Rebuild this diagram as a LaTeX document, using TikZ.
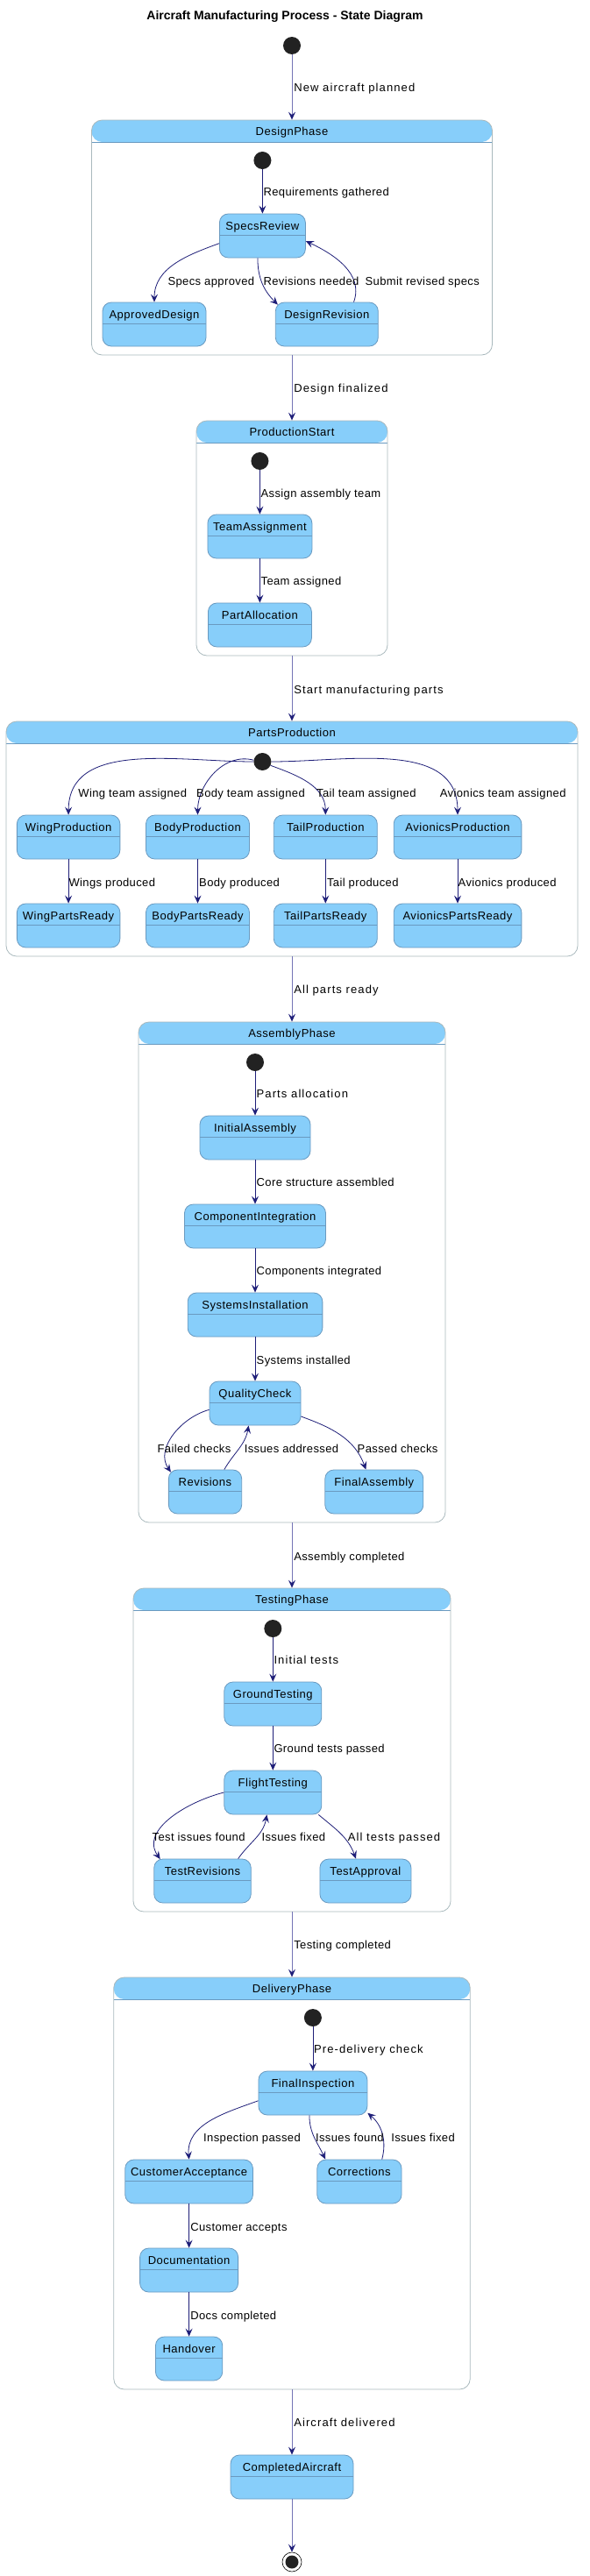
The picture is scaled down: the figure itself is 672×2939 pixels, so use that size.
\documentclass[tikz,border=0pt]{standalone}
\usepackage{fontspec}
\setmainfont{Liberation Sans}
\newfontfamily\namefont[LetterSpace=4]{Liberation Sans}
\newfontfamily\lblfont[LetterSpace=3]{Liberation Sans}
\newfontfamily\lblspfont[LetterSpace=8.5]{Liberation Sans}
\usetikzlibrary{arrows.meta}
\definecolor{statefill}{HTML}{87CEFA}
\definecolor{stateline}{HTML}{6A9AC0}
\definecolor{phaseline}{HTML}{A9B9BD}
\definecolor{arrowcol}{HTML}{1E1E78}
\definecolor{arrowlight}{HTML}{7575B5}
\definecolor{dotfill}{HTML}{222222}
\tikzset{
    statebox/.style={draw=stateline, fill=statefill, line width=0.8pt, rounded corners=10pt,
        font=\namefont\fontsize{13}{15}\selectfont, inner sep=0pt, minimum width=#1,
        text height=18pt, text depth=32pt,
        path picture={\draw[stateline, line width=1pt]
            ([yshift=-24pt]path picture bounding box.north west) --
            ([yshift=-24pt]path picture bounding box.north east);}},
    phasebox/.style 2 args={draw=phaseline, fill=white, line width=0.8pt, rounded corners=12pt,
        inner sep=0pt, minimum width=#1, minimum height=#2,
        path picture={\fill[statefill] (path picture bounding box.north west)
            rectangle ([yshift=-25pt]path picture bounding box.north east);
            \draw[stateline, line width=0.8pt]
            ([yshift=-25pt]path picture bounding box.north west) --
            ([yshift=-25pt]path picture bounding box.north east);}},
    phasetitle/.style={font=\namefont\fontsize{13}{15}\selectfont, anchor=base, inner sep=0pt},
    initdot/.style={circle, fill=dotfill, minimum size=20pt, inner sep=0pt},
    finaldot/.style={circle, draw=black, line width=0.6pt, fill=white, minimum size=22pt, inner sep=0pt,
        path picture={\fill[dotfill] (path picture bounding box.center) circle (7.5pt);}},
    tr/.style={draw=arrowcol, line width=0.8pt, -{Stealth[length=9pt, width=8pt, inset=3.5pt]}},
    outtr/.style={draw=arrowlight, line width=0.8pt, -{Stealth[length=9pt, width=8pt, inset=3.5pt, color=arrowcol]}},
    lbl/.style={font=\lblfont\fontsize{13}{15}\selectfont, anchor=west, inner sep=0pt,
        text height=10pt, text depth=1pt},
    lblsp/.style={lbl, font=\lblspfont\fontsize{13}{15}\selectfont}
}
\begin{document}
\begin{tikzpicture}[x=1pt, y=1pt]
        \useasboundingbox (0,0) rectangle (672,-2939);
        \node[font=\bfseries\fontsize{14}{17}\selectfont, anchor=base] (title) at (325,-23)
            {Aircraft Manufacturing Process - State Diagram};
        % phases
            \node[initdot] (start) at (333,-52) {};
            \node[phasebox={457pt}{268pt}] (design) at (333,-271) {};
            \node[phasebox={218pt}{268pt}] (production) at (333,-614) {};
            \node[phasebox={652pt}{268pt}] (parts) at (333,-957) {};
            \node[phasebox={350pt}{571pt}] (assembly) at (333,-1451.5) {};
            \node[phasebox={362pt}{369pt}] (testing) at (333,-1996.5) {};
            \node[phasebox={406.5pt}{470pt}] (delivery) at (333,-2491) {};
            \node[statebox=140pt] (completed) at (333,-2826) {CompletedAircraft};
            \node[finaldot] (end) at (333,-2923) {};
            \foreach \p/\t in {design/DesignPhase, production/ProductionStart, parts/PartsProduction,
                assembly/AssemblyPhase, testing/TestingPhase, delivery/DeliveryPhase}
                \node[phasetitle] (\p-title) at ([yshift=-18pt]\p.north) {\t};
        % inner states
            \node[initdot] (d1) at (299.4,-183) {};
            \node[statebox=98pt] (specs) at (299.4,-269) {SpecsReview};
            \node[statebox=118pt] (approved) at (176,-370) {ApprovedDesign};
            \node[statebox=117pt] (designrev) at (372.8,-370) {DesignRevision};
            \node[initdot] (d2) at (296.4,-526) {};
            \node[statebox=119pt] (team) at (296.4,-612) {TeamAssignment};
            \node[statebox=118pt] (alloc) at (296.4,-713) {PartAllocation};
            \node[initdot] (d3) at (299.4,-869) {};
            \foreach \n/\x/\w in {Wing/78.1/117.5, Body/225.5/118, Tail/371.3/118, Avionics/522/145.7}{
                \node[statebox=\w pt] (\n prod) at (\x,-955) {\n Production};
                \node[statebox=\w pt] (\n ready) at (\x,-1056) {\n PartsReady};
            }
            \node[initdot] (d4) at (291,-1212) {};
            \node[statebox=126pt] (initial) at (291,-1298) {InitialAssembly};
            \node[statebox=161pt] (compint) at (291,-1399) {ComponentIntegration};
            \node[statebox=153.7pt] (sysinst) at (291,-1500) {SystemsInstallation};
            \node[statebox=104pt] (quality) at (291,-1601) {QualityCheck};
            \node[statebox=83.3pt] (revisions) at (234,-1702) {Revisions};
            \node[statebox=112pt] (finalasm) at (426.8,-1702) {FinalAssembly};
            \node[initdot] (d5) at (311.3,-1858) {};
            \node[statebox=111pt] (ground) at (311.3,-1944) {GroundTesting};
            \node[statebox=111pt] (flight) at (311.3,-2045) {FlightTesting};
            \node[statebox=110.5pt] (testrev) at (231,-2146) {TestRevisions};
            \node[statebox=104pt] (testok) at (416.9,-2146) {TestApproval};
            \node[initdot] (d6) at (356.9,-2302) {};
            \node[statebox=124pt] (inspect) at (356.9,-2388) {FinalInspection};
            \node[statebox=145.7pt] (customer) at (215.6,-2489) {CustomerAcceptance};
            \node[statebox=96.2pt] (corrections) at (409.9,-2489) {Corrections};
            \node[statebox=112pt] (docs) at (215.6,-2590) {Documentation};
            \node[statebox=76.3pt] (handover) at (215.6,-2691) {Handover};
        % transitions
            \foreach \a/\b in {start/design, design/production, production/parts, parts/assembly,
                assembly/testing, testing/delivery, delivery/completed, completed/end}
                \draw[outtr] (\a) -- (\b);
            \foreach \a/\b in {d1/specs, d2/team, team/alloc, d4/initial, initial/compint, compint/sysinst,
                sysinst/quality, d5/ground, ground/flight, d6/inspect, customer/docs, docs/handover}
                \draw[tr] (\a) -- (\b);
            \foreach \n/\a/\o in {Wing/west/180, Body/170/165, Tail/-25/-20, Avionics/east/0}{
                \draw[tr] (d3.\a) to[out=\o, in=90] (\n prod.north);
                \draw[tr] (\n prod) -- (\n ready);
            }
            \draw[tr] (specs.190) to[out=200, in=90] (approved.north);
            \draw[tr] ([xshift=-5.5pt]specs.south) to[out=-90, in=135] ([shift={(3pt,-3pt)}]designrev.north west);
            \draw[tr] ([xshift=30.7pt]designrev.north) to[out=70, in=-25] (specs.-7);
            \draw[tr] (quality.188) to[out=195, in=125] ([shift={(3pt,-3pt)}]revisions.north west);
            \draw[tr] ([xshift=21.8pt]revisions.north) to[out=60, in=-100] ([xshift=-7.4pt]quality.south);
            \draw[tr] (quality.-16) to[out=-20, in=110] ([xshift=-9.4pt]finalasm.north);
            \draw[tr] (flight.west) to[out=194, in=125] ([shift={(7.4pt,-0.5pt)}]testrev.north west);
            \draw[tr] ([xshift=40.6pt]testrev.north) to[out=55, in=-100] ([xshift=-6.9pt]flight.south);
            \draw[tr] (flight.-26) to[out=-40, in=110] ([xshift=-10.9pt]testok.north);
            \draw[tr] (inspect.188) to[out=200, in=95] (customer.north);
            \draw[tr] ([xshift=-4pt]inspect.south) to[out=-90, in=115] ([xshift=-38.7pt]corrections.north);
            \draw[tr] ([xshift=25.8pt]corrections.north) to[out=75, in=-40] (inspect.-20);
        % labels
            \foreach \x/\y/\t [count=\i] in {300.4/219/Requirements gathered, 191.3/321/Specs approved,
                300.4/321/Revisions needed, 416.4/321/Submit revised specs, 297.4/563/Assign assembly team,
                297.4/663/Team assigned, 89.2/905/Wing team assigned, 224/905/Body team assigned,
                360.9/905/Tail team assigned, 501.6/905/Avionics team assigned, 78.3/1007/Wings produced,
                227/1007/Body produced, 372.8/1007/Tail produced, 522.5/1007/Avionics produced,
                292.5/1349/Core structure assembled, 292.5/1450/Components integrated,
                292.5/1552/Systems installed, 179.4/1653/Failed checks, 278.6/1653/Issues addressed,
                407.5/1653/Passed checks, 335.1/1776/Assembly completed, 312.3/1995/Ground tests passed,
                173.5/2096/Test issues found, 298.4/2096/Issues fixed, 335.1/2219/Testing completed,
                232/2439/Inspection passed, 359.9/2439/Issues found, 446.1/2439/Issues fixed,
                217.1/2541/Customer accepts, 217.1/2642/Docs completed}
                \node[lbl] (lbl\i) at (\x,-\y) {\t};
            \foreach \x/\y/\t [count=\i] in {335.1/100/New aircraft planned, 335.1/443/Design finalized,
                335.1/787/Start manufacturing parts, 335.1/1129/All parts ready, 292.5/1248/Parts allocation,
                312.3/1894/Initial tests, 396.6/2096/All tests passed, 357.9/2338/Pre-delivery check,
                335.1/2764/Aircraft delivered}
                \node[lblsp] (lblsp\i) at (\x,-\y) {\t};
\end{tikzpicture}
\end{document}
